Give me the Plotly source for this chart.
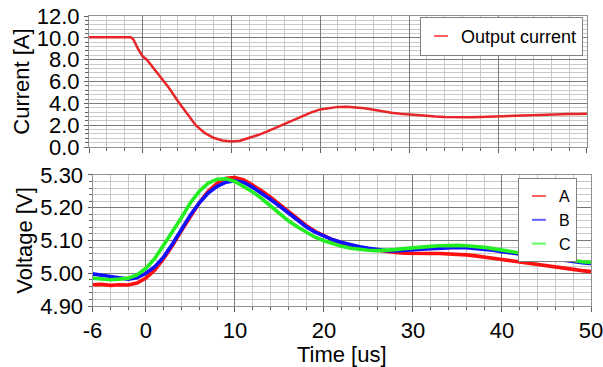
import plotly.graph_objects as go
from plotly.subplots import make_subplots

# ---- data ----
t_cur = [-6, -5, -4, -3, -2, -1.3, -1.0, -0.5, 0, 0.5, 1, 2, 3, 4, 5, 6, 7, 8, 9, 10,
         11, 12, 13, 14, 15, 16, 17, 18, 19, 20, 21, 22, 23, 24, 25, 26, 27, 28, 29, 30,
         31, 32, 33, 34, 35, 36, 37, 38, 39, 40, 41, 42, 43, 44, 45, 46, 47, 48, 49, 50]
current = [10.05, 10.06, 10.04, 10.06, 10.05, 10.05, 9.85, 9.0, 8.35, 8.0, 7.5, 6.5, 5.4, 4.2, 3.05, 2.0, 1.3, 0.85, 0.6, 0.52,
           0.58, 0.82, 1.1, 1.42, 1.78, 2.15, 2.5, 2.85, 3.18, 3.45, 3.6, 3.68, 3.7, 3.65, 3.55, 3.42, 3.27, 3.14, 3.05, 2.98,
           2.9, 2.84, 2.8, 2.76, 2.74, 2.73, 2.74, 2.76, 2.79, 2.83, 2.87, 2.91, 2.94, 2.97, 2.99, 3.0, 3.02, 3.03, 3.03, 3.04]

t_volt = list(range(-6, 51))
volt_a = [4.965, 4.966, 4.963, 4.965, 4.964, 4.97, 4.985, 5.01, 5.045, 5.085, 5.13, 5.175, 5.215, 5.25, 5.275, 5.29,
          5.292, 5.285, 5.27, 5.252, 5.232, 5.21, 5.188, 5.166, 5.146, 5.128, 5.114, 5.102, 5.093, 5.085, 5.079, 5.074,
          5.07, 5.066, 5.063, 5.061, 5.06, 5.06, 5.06, 5.06, 5.059, 5.058, 5.056, 5.053, 5.05, 5.046, 5.042, 5.038,
          5.034, 5.03, 5.026, 5.022, 5.018, 5.014, 5.011, 5.008, 5.005]
volt_b = [4.998, 4.993, 4.99, 4.986, 4.982, 4.986, 5.0, 5.02, 5.05, 5.09, 5.135, 5.178, 5.215, 5.245, 5.265, 5.278,
          5.282, 5.277, 5.262, 5.245, 5.225, 5.205, 5.183, 5.161, 5.142, 5.125, 5.112, 5.102, 5.094, 5.087, 5.081, 5.076,
          5.072, 5.069, 5.068, 5.069, 5.071, 5.073, 5.075, 5.077, 5.078, 5.079, 5.078, 5.076, 5.073, 5.07, 5.066, 5.062,
          5.058, 5.054, 5.05, 5.046, 5.042, 5.038, 5.035, 5.032, 5.03]
volt_c = [4.985, 4.982, 4.98, 4.982, 4.985, 4.995, 5.015, 5.045, 5.085, 5.128, 5.17, 5.215, 5.25, 5.275, 5.287, 5.288,
          5.28, 5.265, 5.248, 5.228, 5.205, 5.182, 5.16, 5.142, 5.125, 5.11, 5.099, 5.09, 5.082, 5.076, 5.072, 5.07,
          5.069, 5.07, 5.072, 5.075, 5.078, 5.08, 5.082, 5.084, 5.085, 5.085, 5.084, 5.082, 5.079, 5.075, 5.07, 5.066,
          5.062, 5.058, 5.054, 5.05, 5.046, 5.042, 5.038, 5.035, 5.033]

x_ticks = [-6, 0, 10, 20, 30, 40, 50]
cur_name = "Output current"
volt_names = ["A", "B", "C"]
volt_colors = ["#ff1010", "#1010ff", "#22ee22"]

FONT = "Liberation Sans, Arial, sans-serif"
MAJ = "#7a7a7a"
MIN = "#c8c8c8"

fig = make_subplots(rows=2, cols=1, shared_xaxes=False, vertical_spacing=0.096)

fig.add_trace(go.Scatter(x=t_cur, y=current, mode="lines", line=dict(color="#e8262a", width=2.5),
                         showlegend=False), row=1, col=1)
for name, col, vals in zip(volt_names, volt_colors, [volt_a, volt_b, volt_c]):
    fig.add_trace(go.Scatter(x=t_volt, y=vals, mode="lines", line=dict(color=col, width=3.6),
                             showlegend=False), row=2, col=1)

# legend-only entries with short line samples
fig.add_trace(go.Scatter(x=[None], y=[None], mode="markers", name=cur_name, legend="legend",
                         marker=dict(symbol="line-ew", size=10, line=dict(color="#ff6060", width=2))), row=1, col=1)
leg_cols = ["#ff6060", "#6060ff", "#60ff60"]
for name, col in zip(volt_names, leg_cols):
    fig.add_trace(go.Scatter(x=[None], y=[None], mode="markers", name=name, legend="legend2",
                             marker=dict(symbol="line-ew", size=10, line=dict(color=col, width=2))), row=2, col=1)

xcommon = dict(range=[-6, 50], tickvals=x_ticks, ticktext=[str(v) for v in x_ticks],
               ticks="outside", ticklen=5, tickcolor="#606060", ticklabeloverflow="allow",
               showgrid=True, gridcolor=MAJ, gridwidth=1, zeroline=False, automargin=False,
               showline=True, linecolor="#909090", mirror=True,
               minor=dict(dtick=2, tick0=0, ticks="outside", ticklen=3, tickcolor="#606060",
                          showgrid=True, gridcolor=MIN, gridwidth=1),
               tickfont=dict(family=FONT, size=22, color="#000"))
fig.update_xaxes(**xcommon, showticklabels=False, row=1, col=1)
fig.update_xaxes(**xcommon, showticklabels=True,
                 title=dict(text="Time [us]", font=dict(family=FONT, size=22, color="#000"), standoff=4),
                 row=2, col=1)

ycommon = dict(ticks="outside", ticklen=4, tickcolor="#606060", showgrid=True, gridcolor=MAJ, gridwidth=1,
               zeroline=False, showline=True, linecolor="#909090", mirror=True, automargin=False,
               ticklabeloverflow="allow", tickfont=dict(family=FONT, size=22, color="#000"))
fig.update_yaxes(**ycommon, range=[0, 12], dtick=2, tick0=0, tickformat=".1f",
                 minor=dict(dtick=0.4, ticks="outside", ticklen=3, tickcolor="#606060",
                            showgrid=True, gridcolor=MIN),
                 title=dict(text="Current [A]", font=dict(family=FONT, size=22, color="#000"), standoff=1),
                 row=1, col=1)
fig.update_yaxes(**ycommon, range=[4.9, 5.3], dtick=0.1, tick0=4.9, tickformat=".2f",
                 minor=dict(dtick=0.02, ticks="outside", ticklen=3, tickcolor="#606060",
                            showgrid=True, gridcolor=MIN),
                 title=dict(text="Voltage [V]", font=dict(family=FONT, size=22, color="#000"), standoff=1),
                 row=2, col=1)

fig.update_layout(
    width=603, height=367,
    margin=dict(l=89, r=12, t=16, b=61),
    plot_bgcolor="white", paper_bgcolor="white",
    xaxis=dict(domain=[0, 0.992]), xaxis2=dict(domain=[0.007, 1]),
    yaxis=dict(domain=[0.548, 1.0]), yaxis2=dict(domain=[0.0, 0.452]),
    legend=dict(x=0.984, xanchor="right", y=0.997, yanchor="top", bgcolor="white",
                bordercolor="#808080", borderwidth=1, font=dict(family=FONT, size=18, color="#000"),
                itemwidth=30, tracegroupgap=0),
    legend2=dict(x=0.972, xanchor="right", y=0.441, yanchor="top", bgcolor="white",
                 bordercolor="#808080", borderwidth=1, font=dict(family=FONT, size=16, color="#000"),
                 itemwidth=30, tracegroupgap=0),
    showlegend=True,
)

fig.write_html("out.html", config={"displayModeBar": False},
               post_script="document.body.style.margin='0';")
